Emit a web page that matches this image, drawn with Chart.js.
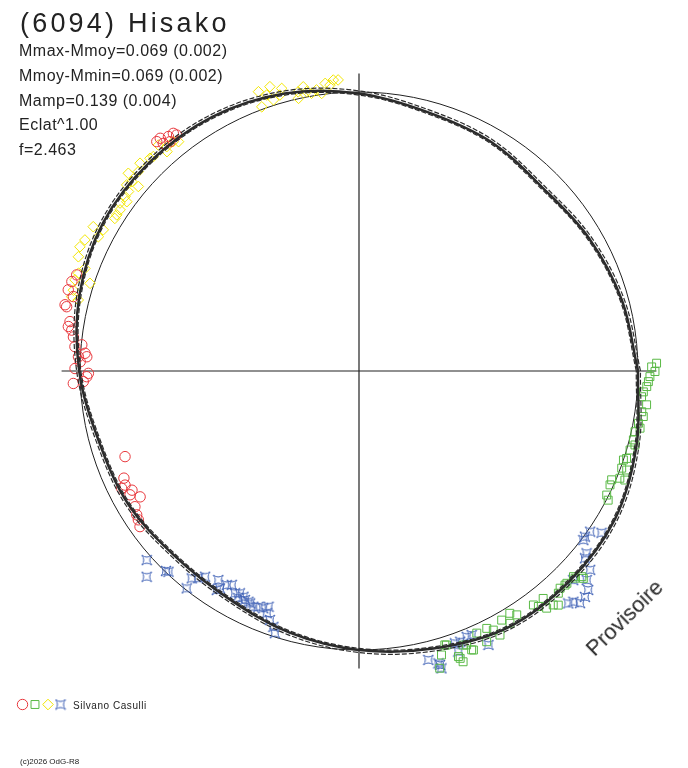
<!DOCTYPE html>
<html>
<head>
<meta charset="utf-8">
<script src="https://cdn.jsdelivr.net/npm/chart.js@4.4.1/dist/chart.umd.min.js"></script>
<style>
  html, body { margin: 0; padding: 0; background: #fff; }
  #wrap { position: relative; width: 688px; height: 768px; overflow: hidden;
          font-family: "Liberation Sans", Arial, sans-serif; color: #222; }
  #wrap canvas { position: absolute; left: 0; top: 0; }
  .t { position: absolute; white-space: nowrap; line-height: 1; }
  .info { font-size: 16px; letter-spacing: 0.5px; left: 19px; }
</style>
</head>
<body>
<div id="wrap">
  <canvas id="polar" width="688" height="768"></canvas>
  <div class="t" style="left:20px;top:9.5px;font-size:27px;letter-spacing:3.2px">(6094) Hisako</div>
  <div id="stats"></div>
  <div class="t" style="left:595px;top:639px;font-size:22px;transform-origin:0 18.6px;transform:rotate(-44.4deg);color:#2a2a2a">Provisoire</div>
  <div class="t" style="left:73px;top:700.5px;font-size:10px;letter-spacing:0.55px">Silvano Casulli</div>
  <div class="t" style="left:20px;top:758px;font-size:8px">(c)2026 OdG-R8</div>
</div>
<script>
// header values
const statLines = ["Mmax-Mmoy=0.069 (0.002)", "Mmoy-Mmin=0.069 (0.002)", "Mamp=0.139 (0.004)", "Eclat^1.00", "f=2.463"];
const statTops = [43, 68, 92.5, 116.8, 141.5];

// fitted lightcurve, polar: rotation angle (deg) and radius relative to mean magnitude circle
const fitDeg = [0, 15, 30, 45, 60, 75, 90, 105, 120, 135, 150, 165, 180, 195, 210, 225, 240, 255, 270, 285, 300, 315, 330, 345];
const fitRho = [1.000, 0.976, 0.952, 0.930, 0.948, 0.960, 0.995, 1.030, 1.052, 1.060, 1.060, 1.038, 1.003, 0.966, 0.955, 0.936, 0.940, 0.970, 1.000, 1.030, 1.063, 1.066, 1.060, 1.030];

// session 1 (red circles)
const redDeg = [131.4, 130.5, 129.1, 128.0, 127.7, 130.7, 129.5, 161.2, 162.7, 164.4, 167.3, 165.4, 170.3, 171.9, 173.2, 175.1, 174.6, 176.3, 177.1, 177.0, 179.5, 180.5, 182.5, 182.2, 167.6, 171.3, 178.1, 181.2, 200.1, 204.5, 206.0, 206.3, 208.4, 209.9, 211.2, 212.9, 214.0, 215.4, 207.7];
const redRho = [1.096, 1.097, 1.083, 1.081, 1.069, 1.076, 1.065, 1.069, 1.078, 1.082, 1.080, 1.058, 1.051, 1.040, 1.031, 1.022, 0.998, 0.984, 1.007, 0.977, 1.018, 0.970, 1.025, 0.989, 1.073, 1.054, 1.000, 0.976, 0.893, 0.926, 0.933, 0.949, 0.933, 0.905, 0.939, 0.949, 0.954, 0.963, 0.919];

// session 2 (green squares)
const grnDeg = [1.5, 0.8, 359.9, 358.9, 357.9, 356.9, 355.8, 354.8, 353.3, 351.8, 350.9, 349.4, 348.5, 347.6, 345.9, 345.0, 343.75, 341.9, 341.4, 339.7, 339.7, 337.65, 337.7, 336.7, 335.6, 333.4, 332.6, 316.2, 314.4, 312.8, 311.9, 309.0, 306.7, 308.35, 309.7, 310.4, 302.9, 301.9, 299.8, 300.9, 298.1, 297.4, 296.4, 294.2, 292.0, 290.8, 289.4, 289.7, 287.4, 286.2, 285.2, 317.3, 287.7, 289.2, 291.45, 292.3, 295.25, 307.3, 313.9, 316.2, 317.25];
const grnRho = [1.067, 1.049, 1.061, 1.043, 1.038, 1.033, 1.022, 1.017, 1.038, 1.024, 1.032, 1.019, 1.028, 1.013, 1.014, 1.024, 1.012, 1.009, 1.000, 1.004, 1.023, 1.011, 1.030, 0.986, 0.988, 0.993, 1.006, 1.065, 1.065, 1.061, 1.070, 1.049, 1.046, 1.084, 1.090, 1.102, 1.041, 1.023, 1.029, 1.054, 1.073, 1.046, 1.030, 1.030, 1.078, 1.051, 1.092, 1.107, 1.029, 1.060, 1.104, 1.087, 1.031, 1.084, 1.055, 1.081, 1.073, 1.061, 1.065, 1.073, 1.095];

// session 3 (yellow diamonds)
const yelDeg = [109.8, 110.2, 107.4, 108.5, 105.3, 106.0, 102.5, 101.1, 102.3, 99.7, 98.6, 97.65, 96.7, 95.05, 94.1, 95.8, 107.5, 100.6, 131.6, 130.6, 129.0, 128.2, 131.2, 134.5, 133.8, 136.5, 137.9, 139.4, 140.2, 141.3, 140.1, 142.1, 143.3, 143.9, 144.9, 146.0, 147.2, 148.0, 151.1, 151.5, 152.75, 154.45, 156.0, 157.85, 159.5, 160.8, 162.2, 161.95, 164.2, 165.5, 165.8];
const yelRho = [1.064, 1.009, 1.068, 1.043, 1.050, 1.029, 1.001, 1.038, 1.024, 1.010, 1.019, 1.004, 1.038, 1.047, 1.046, 1.030, 1.019, 1.019, 1.083, 1.059, 1.058, 1.046, 1.045, 1.069, 1.065, 1.082, 1.066, 1.089, 1.060, 1.067, 1.031, 1.047, 1.046, 1.030, 1.047, 1.033, 1.033, 1.032, 1.047, 1.084, 1.051, 1.089, 1.095, 1.086, 1.049, 1.065, 1.069, 1.014, 1.064, 1.064, 1.038];

// session 4 (blue stars)
const bluDeg = [221.7, 224.1, 226.5, 226.0, 231.6, 231.1, 232.2, 233.2, 236.05, 237.4, 238.3, 239.25, 237.0, 240.85, 241.8, 242.0, 243.5, 244.9, 245.85, 246.9, 248.0, 249.0, 249.15, 250.3, 251.5, 252.2, 242.9, 244.4, 283.5, 282.7, 285.4, 285.5, 289.4, 290.5, 292.05, 293.1, 295.3, 289.5, 312.0, 312.9, 313.6, 315.0, 316.3, 317.45, 319.3, 320.35, 321.3, 323.0, 325.2, 326.3, 323.75, 315.7, 285.2];
const bluRho = [1.019, 1.060, 0.992, 0.996, 0.994, 0.955, 0.940, 0.921, 0.903, 0.925, 0.902, 0.892, 0.936, 0.912, 0.904, 0.922, 0.917, 0.920, 0.926, 0.919, 0.917, 0.905, 0.929, 0.948, 0.967, 0.987, 0.909, 0.917, 1.065, 1.129, 1.093, 1.106, 1.035, 1.036, 1.028, 1.029, 1.086, 1.067, 1.121, 1.129, 1.149, 1.145, 1.136, 1.108, 1.093, 1.052, 1.045, 1.007, 1.009, 1.045, 1.004, 1.073, 1.086];

const axisReach = 1.066;   // cross lines run a bit past the mean circle
const hatchOffsets = [0.009, -0.006];

// stats text
const statsBox = document.getElementById("stats");
statLines.forEach((s, i) => {
  const d = document.createElement("div");
  d.className = "t info";
  d.style.top = statTops[i] + "px";
  d.textContent = s;
  statsBox.appendChild(d);
});

const toXY = (deg, rho) => deg.map((d, i) => ({
  x: rho[i] * Math.cos(d * Math.PI / 180),
  y: rho[i] * Math.sin(d * Math.PI / 180)
}));
const closed = pts => pts.concat([pts[0]]);

// little 4-point star used for session 4
function starMark(color) {
  const c = document.createElement("canvas");
  c.width = 12; c.height = 12;
  const g = c.getContext("2d");
  g.strokeStyle = color; g.lineWidth = 1;
  g.beginPath();
  g.moveTo(1, 1);
  g.quadraticCurveTo(6, 5, 11, 1);
  g.quadraticCurveTo(7, 6, 11, 11);
  g.quadraticCurveTo(6, 7, 1, 11);
  g.quadraticCurveTo(5, 6, 1, 1);
  g.stroke();
  return c;
}

const RED = "#e8383d", GREEN = "#5ab946", YELLOW = "#f2e600", BLUE = "#3d5fb5", INK = "#2b2b2b";

const sessions = [
  { label: "red", data: toXY(redDeg, redRho), pointStyle: "circle", pointRadius: 5.2, borderColor: RED },
  { label: "green", data: toXY(grnDeg, grnRho), pointStyle: "rect", pointRadius: 5.6, borderColor: GREEN },
  { label: "yellow", data: toXY(yelDeg, yelRho), pointStyle: "rectRot", pointRadius: 5.3, borderColor: YELLOW },
  { label: "blue", data: toXY(bluDeg, bluRho), pointStyle: starMark(BLUE), pointRadius: 6, borderColor: BLUE }
].map(s => Object.assign(s, { showLine: false, backgroundColor: "rgba(0,0,0,0)", borderWidth: 1, clip: false }));

const fitLines = [
  { label: "fit", data: closed(toXY(fitDeg, fitRho)), borderWidth: 2.5, borderDash: [] }
].concat(hatchOffsets.map(off => ({
  label: "fit", data: closed(toXY(fitDeg, fitRho.map(r => r + off))), borderWidth: 1.2, borderDash: [5, 2]
}))).map(s => Object.assign(s, { showLine: true, borderColor: INK, pointRadius: 0, tension: 0.35, clip: false }));

// axes cross + mean circle, and the marker key at the bottom
const polarFrame = {
  id: "polarFrame",
  beforeDatasetsDraw(chart) {
    const { ctx, scales: { x, y } } = chart;
    const cx = x.getPixelForValue(0), cy = y.getPixelForValue(0);
    ctx.save();
    ctx.strokeStyle = "#222";
    ctx.lineWidth = 1.2;
    ctx.beginPath();
    ctx.moveTo(x.getPixelForValue(-axisReach), cy);
    ctx.lineTo(x.getPixelForValue(axisReach), cy);
    ctx.moveTo(cx, y.getPixelForValue(axisReach));
    ctx.lineTo(cx, y.getPixelForValue(-axisReach));
    ctx.stroke();
    ctx.lineWidth = 1;
    ctx.beginPath();
    ctx.arc(cx, cy, x.getPixelForValue(1) - cx, 0, Math.PI * 2);
    ctx.stroke();
    ctx.restore();
  },
  afterDraw(chart) {
    const ctx = chart.ctx;
    const keyX = [22.5, 35, 48, 60.5];
    ctx.save();
    sessions.forEach((s, i) => {
      ctx.strokeStyle = s.borderColor;
      ctx.fillStyle = "rgba(0,0,0,0)";
      ctx.lineWidth = 1;
      Chart.helpers.drawPoint(ctx, { pointStyle: s.pointStyle, radius: s.pointRadius, borderWidth: 1, rotation: 0 }, keyX[i], 704.5);
    });
    ctx.restore();
  }
};

new Chart(document.getElementById("polar"), {
  type: "scatter",
  data: { datasets: fitLines.concat(sessions) },
  options: {
    responsive: false,
    animation: false,
    layout: { padding: { left: 61.6, right: 31.6, top: 73.6, bottom: 99.6 } },
    plugins: { legend: { display: false }, tooltip: { enabled: false } },
    scales: {
      x: { type: "linear", min: -axisReach, max: axisReach, display: false },
      y: { type: "linear", min: -axisReach, max: axisReach, display: false }
    }
  },
  plugins: [polarFrame]
});
</script>
</body>
</html>
